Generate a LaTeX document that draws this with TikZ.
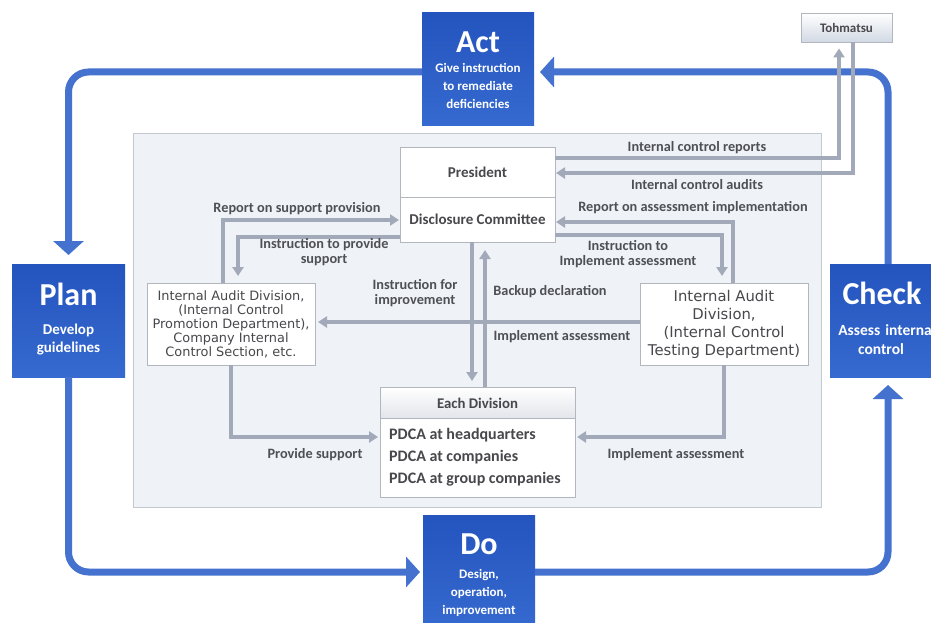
\documentclass[tikz,border=0pt]{standalone}
\usepackage{fontspec}
\setmainfont{Carlito}
\newfontfamily\boxfont{DejaVu Sans}
\usetikzlibrary{arrows.meta,calc}
\definecolor{pdcatop}{RGB}{36,84,190}
\definecolor{pdcabot}{RGB}{54,106,208}
\definecolor{loopblue}{RGB}{68,114,206}
\definecolor{conngray}{RGB}{162,169,184}
\definecolor{panelfill}{RGB}{239,242,247}
\definecolor{paneldraw}{RGB}{196,200,208}
\definecolor{labelgray}{RGB}{78,80,86}
\definecolor{boxtext}{RGB}{72,72,76}
\definecolor{boxborder}{RGB}{178,182,190}
\definecolor{tohbot}{RGB}{210,217,228}
\definecolor{headbot}{RGB}{226,229,235}
\begin{document}
\begin{tikzpicture}[x=1pt,y=-1pt,
  pdca/.style={draw=none,top color=pdcatop,bottom color=pdcabot,inner sep=0,outer sep=0},
  pdcatitle/.style={text=white,font=\bfseries\fontsize{32}{34}\selectfont,inner sep=0},
  pdcasub/.style={text=white,align=center,inner sep=0},
  loopline/.style={draw=loopblue,line width=7,rounded corners=20},
  bigtip/.style={-{Triangle[width=30,length=14]}},
  conn/.style={draw=conngray,line width=3.2},
  ctip/.style={-{Triangle[width=11,length=9]}},
  wbox/.style={draw=boxborder,fill=white,line width=0.9,inner sep=0,outer sep=0},
  lbl/.style={text=labelgray,font=\bfseries\fontsize{14.3}{15.5}\selectfont,inner sep=0,align=center},
]
\clip (0,0) rectangle (931,623);
\fill[white] (0,0) rectangle (931,623);

% central panel
\node[draw=paneldraw,fill=panelfill,line width=1,minimum width=688,minimum height=374,anchor=north west,inner sep=0] (panel) at (133,133) {};

% PDCA boxes
\node[pdca,minimum width=112,minimum height=113] (act) at (478,69) {};
\node[pdcatitle] (acttitle) at ($(act.north)+(0,30)$) {Act};
\node[pdcasub,font=\bfseries\fontsize{13}{18}\selectfont] (actsub) at ($(act.north)+(0,73)$) {Give instruction\\to remediate\\deficiencies};

\node[pdca,minimum width=113,minimum height=113] (plan) at (68.5,320.5) {};
\node[pdcatitle] (plantitle) at ($(plan.north)+(0,30)$) {Plan};
\node[pdcasub,font=\bfseries\fontsize{15}{18}\selectfont] (plansub) at ($(plan.north)+(0,76)$) {Develop\\guidelines};

\node[pdca,minimum width=116,minimum height=113] (check) at (888,320.5) {};
\node[pdcatitle] (checktitle) at (882,293) {Check};
\node[pdcasub,font=\bfseries\fontsize{15.5}{19}\selectfont,text width=110,align=center] (checksub) at (887,340) {Assess internal\\\hspace*{-12pt}control};

\node[pdca,minimum width=112,minimum height=114] (do) at (479,572) {};
\node[pdcatitle] (dotitle) at ($(do.north)+(0,29)$) {Do};
\node[pdcasub,font=\bfseries\fontsize{13}{18}\selectfont] (dosub) at ($(do.north)+(0,78)$) {Design,\\operation,\\improvement};

% outer loop
\draw[loopline,bigtip,shorten >=9] ($(act.west)+(0,3)$) -| (plan.north);
\draw[loopline,bigtip,shorten >=3] (plan.south) |- (do.west);
\draw[loopline,bigtip,shorten >=8] (do.east) -| (check.south);
\draw[loopline,bigtip,shorten >=6] (check.north) |- ($(act.east)+(0,3)$);

% Tohmatsu
\node[draw=boxborder,top color=white,bottom color=tohbot,line width=0.9,minimum width=91,minimum height=29,inner sep=0,
      font=\bfseries\fontsize{13}{14}\selectfont,text=boxtext] (toh) at (846.5,27.5) {Tohmatsu};

% inner boxes
\node[wbox,minimum width=155,minimum height=50,font=\bfseries\fontsize{15}{16}\selectfont,text=boxtext] (pres) at (477.5,172) {President};
\node[wbox,minimum width=155,minimum height=45,font=\bfseries\fontsize{15}{16}\selectfont,text=boxtext] (dc) at (477.5,219.5) {Disclosure Committee};

\node[wbox,minimum width=168,minimum height=82,align=center,text=boxtext,font=\boxfont\fontsize{12.9}{14}\selectfont] (left) at (231,324)
  {Internal Audit Division,\\(Internal Control\\Promotion Department),\\Company Internal\\Control Section, etc.};
\node[wbox,minimum width=168,minimum height=82,align=center,text=boxtext,font=\boxfont\fontsize{14.8}{18}\selectfont] (right) at (724,324)
  {Internal Audit\\Division,\\(Internal Control\\Testing Department)};

\node[wbox,minimum width=195,minimum height=110] (each) at (477.5,442) {};
\fill[top color=white,bottom color=headbot] ($(each.north west)+(0.5,0.5)$) rectangle ($(each.north east)+(-0.5,31)$);
\draw[draw=boxborder,line width=0.9] (each.north west) rectangle (each.south east);
\draw[draw=boxborder,line width=0.9] ($(each.north west)+(0,31)$) -- ($(each.north east)+(0,31)$);
\node[text=boxtext,font=\bfseries\fontsize{14.8}{16}\selectfont,inner sep=0] (eachtitle) at ($(each.north)+(0,16)$) {Each Division};
\node[text=boxtext,font=\bfseries\fontsize{16}{22}\selectfont,align=left,anchor=north west,inner sep=0] (eachlist) at ($(each.north west)+(9,41)$)
  {PDCA at headquarters\\PDCA at companies\\PDCA at group companies};

% grey connectors
\draw[conn,ctip,shorten >=6] ($(pres.east)+(0,-14)$) -| ($(toh.south)+(-7.5,0)$);
\draw[conn,ctip,shorten >=1] ($(toh.south)+(6.5,0)$) |- ($(pres.east)+(0,1)$);
\draw[conn,ctip,shorten >=1] ($(left.north)+(-8,0)$) |- ($(dc.west)+(0,0.5)$);
\draw[conn,ctip,shorten >=7] ($(dc.west)+(0,17.5)$) -| ($(left.north)+(7,0)$);
\draw[conn,ctip,shorten >=1] ($(right.north)+(9,0)$) |- ($(dc.east)+(0,2.5)$);
\draw[conn,ctip,shorten >=7] ($(dc.east)+(0,15.5)$) -| ($(right.north)+(-2,0)$);
\draw[conn,ctip,shorten >=6] ($(dc.south)+(-5.5,0)$) -- ($(each.north)+(-5.5,0)$);
\draw[conn,ctip,shorten >=8] ($(each.north)+(7.5,0)$) -- ($(dc.south)+(7.5,0)$);
\draw[conn,ctip,shorten >=3] ($(right.west)+(0,-2)$) -- ($(left.east)+(0,-2)$);
\draw[conn,ctip,shorten >=2] (left.south) |- ($(each.west)+(0,-5)$);
\draw[conn,ctip,shorten >=2] (right.south) |- ($(each.east)+(0,-5)$);

% labels
\node[lbl] (l1) at (697,148) {Internal control reports};
\node[lbl] (l2) at (697,185) {Internal control audits};
\node[lbl] (l3) at (297,209) {Report on support provision};
\node[lbl] (l4) at (324,252) {Instruction to provide\\support};
\node[lbl] (l5) at (693,208) {Report on assessment implementation};
\node[lbl] (l6) at (628,254) {Instruction to\\Implement assessment};
\node[lbl] (l7) at (415,293) {Instruction for\\improvement};
\node[lbl] (l8) at (550,292) {Backup declaration};
\node[lbl] (l9) at (562,337) {Implement assessment};
\node[lbl] (l10) at (315,455) {Provide support};
\node[lbl] (l11) at (676,455) {Implement assessment};
\end{tikzpicture}
\end{document}
